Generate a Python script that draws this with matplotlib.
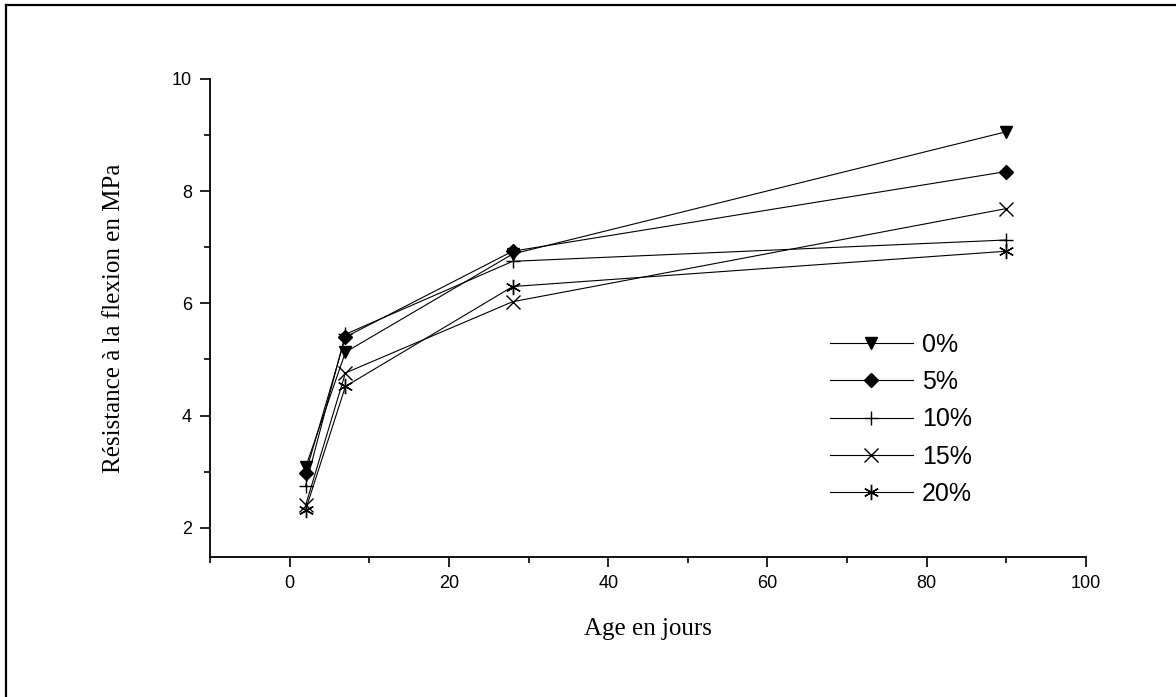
import matplotlib
matplotlib.use('Agg')
import matplotlib.pyplot as plt
from matplotlib.lines import Line2D
from matplotlib.ticker import MultipleLocator

# Age (days) and flexural strength (MPa) per replacement level
ages = [2, 7, 28, 90]
labels = ['0%', '5%', '10%', '15%', '20%']
strength = {
    '0%':  [3.08, 5.13, 6.88, 9.06],
    '5%':  [2.97, 5.40, 6.93, 8.35],
    '10%': [2.75, 5.45, 6.75, 7.13],
    '15%': [2.40, 4.76, 6.03, 7.69],
    '20%': [2.32, 4.52, 6.30, 6.93],
}
markers = {'0%': 'v', '5%': 'D', '10%': '+', '15%': 'x', '20%': (6, 2, 0)}
msizes = {'0%': 9, '5%': 7.5, '10%': 10, '15%': 10, '20%': 11}

plt.rcParams['font.family'] = ['Liberation Sans', 'DejaVu Sans']

fig = plt.figure(figsize=(11.76, 6.97), dpi=100)
ax = fig.add_axes([0.1786, 0.2009, 0.7449, 0.6858])

for lab in labels:
    ax.plot(ages, strength[lab], color='black', linewidth=0.8,
            marker=markers[lab], markersize=msizes[lab],
            markerfacecolor='black', markeredgecolor='black',
            markeredgewidth=1.0, label=lab)

ax.set_xlim(-10, 100)
ax.set_ylim(1.48, 10)
ax.xaxis.set_major_locator(MultipleLocator(20))
ax.xaxis.set_minor_locator(MultipleLocator(10))
ax.yaxis.set_major_locator(MultipleLocator(2))
ax.yaxis.set_minor_locator(MultipleLocator(1))

for side in ['top', 'right']:
    ax.spines[side].set_visible(False)
for side in ['left', 'bottom']:
    ax.spines[side].set_linewidth(1.3)
ax.tick_params(which='major', direction='out', length=7, width=1.2,
               labelsize=13, pad=6)
ax.tick_params(which='minor', direction='out', length=4, width=1.2)

ax.set_xlabel('Age en jours', family='Liberation Serif', fontsize=18,
              labelpad=19)
ax.set_ylabel('Résistance à la flexion en MPa', family='Liberation Serif',
              fontsize=18, labelpad=34)

ax.legend(loc='upper left', bbox_to_anchor=(0.708, 0.469), frameon=False,
          fontsize=18, handlelength=3.3, handletextpad=0.36,
          labelspacing=0.53, numpoints=1, borderpad=0, borderaxespad=0)

# frame lines around the figure (top and left only)
fig.add_artist(Line2D([0.005, 1.0], [0.9928, 0.9928], color='black',
                      linewidth=1.6, transform=fig.transFigure))
fig.add_artist(Line2D([0.0055, 0.0055], [0.0, 0.9928], color='black',
                      linewidth=1.6, transform=fig.transFigure))

fig.savefig('out.png', dpi=100)
